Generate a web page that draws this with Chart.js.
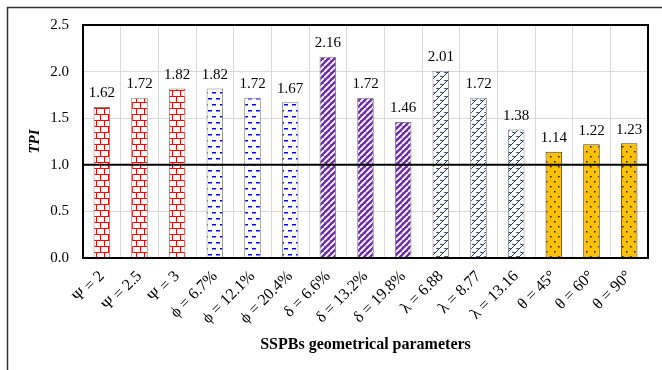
<!DOCTYPE html>
<html>
<head>
<meta charset="utf-8">
<script src="https://cdn.jsdelivr.net/npm/chart.js@4.4.0/dist/chart.umd.min.js"></script>
<style>
    html, body { margin: 0; padding: 0; background: #fff; }
    #wrap { width: 662px; height: 370px; position: relative; }
</style>
</head>
<body>
<div id="wrap"><canvas id="chart" width="662" height="370"></canvas></div>
<script>
const categories = ['Ψ = 2', 'Ψ = 2.5', 'Ψ = 3', 'ϕ = 6.7%', 'ϕ = 12.1%', 'ϕ = 20.4%',
    'δ = 6.6%', 'δ = 13.2%', 'δ = 19.8%', 'λ = 6.88', 'λ = 8.77', 'λ = 13.16',
    'θ = 45°', 'θ = 60°', 'θ = 90°'];
const tpiValues = [1.62, 1.72, 1.82, 1.82, 1.72, 1.67, 2.16, 1.72, 1.46, 2.01, 1.72, 1.38, 1.14, 1.22, 1.23];
const groupOfBar = [0, 0, 0, 1, 1, 1, 2, 2, 2, 3, 3, 3, 4, 4, 4];
const yTicks = [0, 0.5, 1.0, 1.5, 2.0, 2.5];
const referenceValue = 1.0;

const SERIF = '"Liberation Serif", "Times New Roman", serif';

function makePattern(w, h, draw) {
    const c = document.createElement('canvas');
    c.width = w;
    c.height = h;
    const g = c.getContext('2d');
    draw(g, w, h);
    return document.getElementById('chart').getContext('2d').createPattern(c, 'repeat');
}

// red bricks
const bricks = makePattern(8, 12, (g, w, h) => {
    g.fillStyle = '#fff';
    g.fillRect(0, 0, w, h);
    g.fillStyle = '#ff0000';
    g.fillRect(0, 0, w, 1);
    g.fillRect(0, 6, w, 1);
    g.fillRect(0, 0, 1, 6);
    g.fillRect(4, 6, 1, 6);
});

// blue dashes
const dashes = makePattern(8, 12, (g, w, h) => {
    g.fillStyle = '#fff';
    g.fillRect(0, 0, w, h);
    g.fillStyle = '#0000ff';
    g.fillRect(0, 2, 4, 1.5);
    g.fillRect(4, 8, 4, 1.5);
});

// purple wide diagonal
const stripes = makePattern(6, 6, (g, w, h) => {
    g.fillStyle = '#7030a0';
    g.fillRect(0, 0, w, h);
    g.strokeStyle = '#fff';
    g.lineWidth = 1.8;
    g.beginPath();
    for (let k = -1; k <= 1; k++) {
        g.moveTo(k * w, h);
        g.lineTo(k * w + w, 0);
    }
    g.stroke();
});

// navy zigzag
const zigzag = makePattern(8, 8, (g, w, h) => {
    g.fillStyle = '#fff';
    g.fillRect(0, 0, w, h);
    g.strokeStyle = '#1f3864';
    g.lineWidth = 1;
    g.beginPath();
    g.moveTo(0, 8);
    g.lineTo(8, 0);
    g.moveTo(0, 4);
    g.lineTo(3, 5);
    g.moveTo(4, 0);
    g.lineTo(7, 1);
    g.stroke();
});

// orange dots
const dots = makePattern(8, 10, (g, w, h) => {
    g.fillStyle = '#ffc000';
    g.fillRect(0, 0, w, h);
    g.fillStyle = '#222';
    g.fillRect(2, 1, 1.5, 1.5);
    g.fillRect(6, 6, 1.5, 1.5);
});

const groupFills = [bricks, dashes, stripes, zigzag, dots];
const groupBorders = ['#7f7f7f', '#7f7f7f', '#7f7f7f', '#7f7f7f', '#404040'];

const framePlugin = {
    id: 'frame',
    beforeDraw(chart) {
        const ctx = chart.ctx;
        ctx.save();
        ctx.strokeStyle = '#333';
        ctx.lineWidth = 1.5;
        ctx.strokeRect(7.5, 7.5, 700, 400);
        ctx.restore();
    },
    afterDatasetsDraw(chart) {
        const ctx = chart.ctx;
        const area = chart.chartArea;
        const y = chart.scales.y.getPixelForValue(referenceValue);
        ctx.save();
        ctx.strokeStyle = '#000';
        ctx.lineWidth = 2;
        ctx.beginPath();
        ctx.moveTo(area.left, y);
        ctx.lineTo(area.right, y);
        ctx.stroke();
        ctx.strokeRect(area.left, area.top, area.right - area.left, area.bottom - area.top);

        ctx.fillStyle = '#000';
        ctx.font = '15px ' + SERIF;
        ctx.textAlign = 'center';
        ctx.textBaseline = 'bottom';
        chart.getDatasetMeta(0).data.forEach((bar, i) => {
            ctx.fillText(tpiValues[i].toFixed(2), bar.x, bar.y - 6);
        });
        ctx.restore();
    }
};

new Chart(document.getElementById('chart'), {
    type: 'bar',
    data: {
        labels: categories,
        datasets: [{
            data: tpiValues,
            backgroundColor: groupOfBar.map(g => groupFills[g]),
            borderColor: groupOfBar.map(g => groupBorders[g]),
            borderWidth: 1,
            barPercentage: 0.44,
            categoryPercentage: 1
        }]
    },
    options: {
        responsive: false,
        animation: false,
        layout: { padding: { left: 0, right: 14, top: 25, bottom: 0 } },
        plugins: {
            legend: { display: false },
            tooltip: { enabled: false }
        },
        scales: {
            x: {
                afterFit: s => { s.height = 112; },
                grid: { color: '#d9d9d9', drawTicks: false, offset: true },
                border: { color: '#000', width: 2 },
                ticks: {
                    color: '#000',
                    font: { family: SERIF, size: 16 },
                    maxRotation: 45,
                    minRotation: 45,
                    padding: 9,
                    autoSkip: false
                },
                title: {
                    display: true,
                    text: 'SSPBs geometrical parameters',
                    color: '#000',
                    font: { family: SERIF, size: 16, weight: 'bold' },
                    padding: { top: 0, bottom: 16 }
                }
            },
            y: {
                min: 0,
                max: 2.5,
                afterFit: s => { s.width = 83; },
                afterBuildTicks: s => { s.ticks = yTicks.map(v => ({ value: v })); },
                grid: { color: '#d9d9d9', drawTicks: false },
                border: { color: '#000', width: 2 },
                ticks: {
                    color: '#000',
                    font: { family: SERIF, size: 15 },
                    padding: 14,
                    callback: v => Number(v).toFixed(1)
                },
                title: {
                    display: true,
                    text: 'TPI',
                    color: '#000',
                    font: { family: SERIF, size: 15, weight: 'bold', style: 'italic' },
                    padding: { top: 26, bottom: 0 }
                }
            }
        }
    },
    plugins: [framePlugin]
});
</script>
</body>
</html>
